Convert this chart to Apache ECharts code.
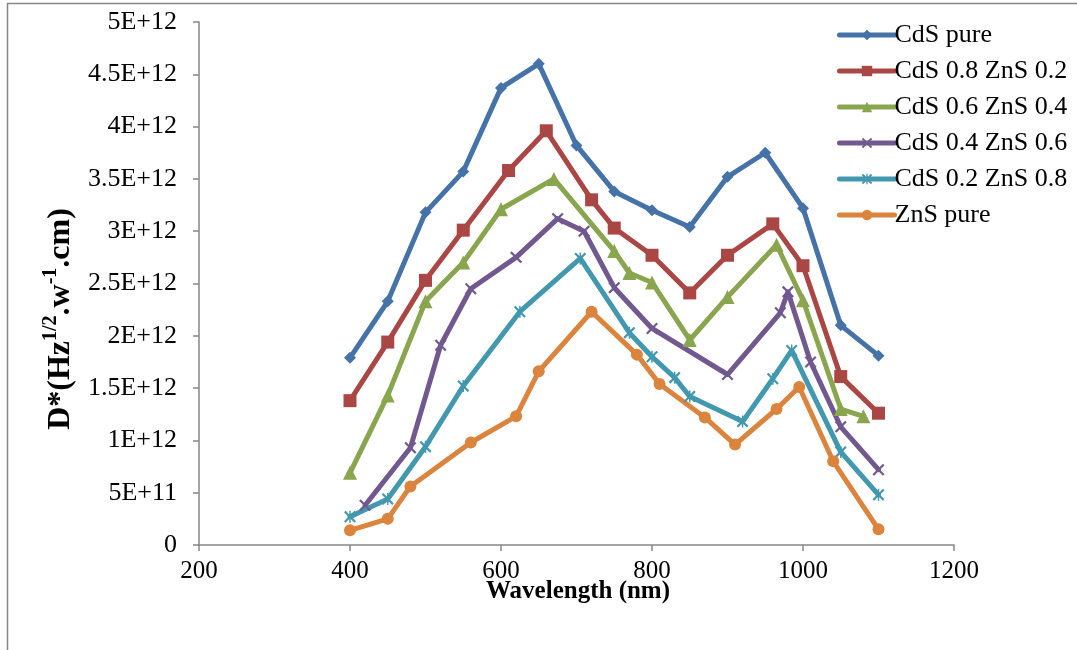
<!DOCTYPE html>
<html>
<head>
<meta charset="utf-8">
<script src="https://cdn.jsdelivr.net/npm/echarts@6/dist/echarts.min.js"></script>
<style>
html,body{margin:0;padding:0;background:#fff;}
#chart{width:1077px;height:650px;}
</style>
</head>
<body>
<div id="chart"></div>
<script>
// ---- data (wavelength nm, D* in units of 1E12) ----
const seriesNames = ['CdS pure', 'CdS 0.8 ZnS 0.2', 'CdS 0.6 ZnS 0.4', 'CdS 0.4 ZnS 0.6', 'CdS 0.2 ZnS 0.8', 'ZnS pure'];

const cdsPureX = [400, 450, 500, 550, 600, 650, 700, 750, 800, 850, 900, 950, 1000, 1050, 1100];
const cdsPureY = [1.79, 2.33, 3.18, 3.57, 4.37, 4.60, 3.82, 3.38, 3.20, 3.04, 3.52, 3.75, 3.22, 2.10, 1.81];

const cds08X = [400, 450, 500, 550, 610, 660, 720, 750, 800, 850, 900, 960, 1000, 1050, 1100];
const cds08Y = [1.38, 1.94, 2.53, 3.01, 3.58, 3.96, 3.30, 3.03, 2.77, 2.41, 2.77, 3.07, 2.67, 1.61, 1.26];

const cds06X = [400, 450, 500, 550, 600, 670, 750, 770, 800, 850, 900, 965, 1000, 1050, 1080];
const cds06Y = [0.69, 1.43, 2.33, 2.70, 3.21, 3.50, 2.81, 2.60, 2.51, 1.96, 2.37, 2.87, 2.34, 1.30, 1.23];

const cds04X = [420, 480, 520, 560, 620, 675, 710, 750, 800, 900, 970, 980, 1010, 1050, 1100];
const cds04Y = [0.38, 0.93, 1.91, 2.45, 2.75, 3.12, 3.00, 2.46, 2.07, 1.63, 2.22, 2.42, 1.75, 1.13, 0.72];

const cds02X = [400, 450, 500, 550, 625, 705, 770, 800, 830, 850, 920, 960, 985, 1050, 1100];
const cds02Y = [0.27, 0.44, 0.94, 1.52, 2.23, 2.74, 2.03, 1.80, 1.60, 1.42, 1.18, 1.59, 1.86, 0.89, 0.48];

const znsPureX = [400, 450, 480, 560, 620, 650, 720, 780, 810, 870, 910, 965, 995, 1040, 1100];
const znsPureY = [0.14, 0.25, 0.56, 0.98, 1.23, 1.66, 2.23, 1.82, 1.54, 1.22, 0.96, 1.30, 1.51, 0.80, 0.15];

const yScale = 1e12;
const xTicks = [200, 400, 600, 800, 1000, 1200];
const yTickLabels = ['0', '5E+11', '1E+12', '1.5E+12', '2E+12', '2.5E+12', '3E+12', '3.5E+12', '4E+12', '4.5E+12', '5E+12'];

// ---- styles ----
const colors = ['#4572A7', '#AA4643', '#89A54E', '#71588F', '#4198AF', '#DB843D'];
const xPath = 'path://M0,1.3L1.3,0L5,3.7L8.7,0L10,1.3L6.3,5L10,8.7L8.7,10L5,6.3L1.3,10L0,8.7L3.7,5Z';
const starPath = 'path://M0,1.3L1.3,0L5,3.7L8.7,0L10,1.3L6.3,5L10,8.7L8.7,10L5,6.3L1.3,10L0,8.7L3.7,5Z M4.4,0L5.6,0L5.6,10L4.4,10Z';
const symbols = ['diamond', 'rect', 'triangle', xPath, starPath, 'circle'];
const symbolSizes = [12, 13, 14, 12, 12, 12];
const xs = [cdsPureX, cds08X, cds06X, cds04X, cds02X, znsPureX];
const ys = [cdsPureY, cds08Y, cds06Y, cds04Y, cds02Y, znsPureY];

const font = '"Liberation Serif", "Times New Roman", serif';
const axisColor = '#868686';
const lineW = 5;

const series = seriesNames.map((name, i) => ({
  name: name,
  type: 'line',
  data: xs[i].map((x, k) => [x, ys[i][k] * yScale]),
  symbol: symbols[i],
  symbolSize: symbolSizes[i],
  showSymbol: true,
  lineStyle: { color: colors[i], width: lineW, join: 'round', cap: 'round' },
  itemStyle: { color: colors[i] },
  emphasis: { disabled: true },
  animation: false
}));

const chart = echarts.init(document.getElementById('chart'), null, { renderer: 'canvas' });
chart.setOption({
  backgroundColor: '#ffffff',
  animation: false,
  color: colors,
  grid: { left: 199, right: 123, top: 22, bottom: 105, containLabel: false },
  xAxis: {
    type: 'value',
    min: xTicks[0],
    max: xTicks[xTicks.length - 1],
    interval: 200,
    axisLine: { show: true, lineStyle: { color: axisColor, width: 1.5 } },
    axisTick: { show: true, length: 6, lineStyle: { color: axisColor, width: 1.5 } },
    splitLine: { show: false },
    axisLabel: { fontFamily: font, fontSize: 25, color: '#000', margin: 14,
      formatter: function (v) { return String(v); } }
  },
  yAxis: {
    type: 'value',
    min: 0,
    max: 5e12,
    interval: 5e11,
    axisLine: { show: true, lineStyle: { color: axisColor, width: 1.5 } },
    axisTick: { show: true, length: 6, lineStyle: { color: axisColor, width: 1.5 } },
    splitLine: { show: false },
    axisLabel: {
      fontFamily: font, fontSize: 26, color: '#000', margin: 22,
      formatter: function (v) { return yTickLabels[Math.round(v / 5e11)]; }
    }
  },
  legend: {
    orient: 'vertical',
    left: 832,
    top: 17,
    itemWidth: 55,
    itemHeight: 13,
    itemGap: 10,
    data: seriesNames,
    lineStyle: { width: lineW },
    textStyle: { fontFamily: font, fontSize: 26, color: '#000', padding: [0, 0, 0, -5] }
  },
  graphic: [
    {
      type: 'rect',
      shape: { x: 7.5, y: 3.5, width: 1100, height: 700 },
      style: { fill: 'none', stroke: axisColor, lineWidth: 1.5 },
      silent: true,
      z: -10
    },
    {
      type: 'text',
      x: 578,
      y: 592,
      style: {
        text: 'Wavelength (nm)',
        font: 'bold 25px ' + font,
        fill: '#000',
        textAlign: 'center',
        textVerticalAlign: 'middle'
      }
    },
    {
      type: 'text',
      x: 59,
      y: 319,
      rotation: Math.PI / 2,
      style: {
        text: '{a|D*(Hz}{s|1/2}{a|.w}{s|-1}{a|.cm)}',
        textAlign: 'center',
        textVerticalAlign: 'middle',
        fill: '#000',
        rich: {
          a: { fontFamily: font, fontWeight: 'bold', fontSize: 32, lineHeight: 36, verticalAlign: 'bottom', fill: '#000' },
          s: { fontFamily: font, fontWeight: 'bold', fontSize: 20, lineHeight: 36, verticalAlign: 'top', fill: '#000' }
        }
      }
    }
  ],
  series: series
});
</script>
</body>
</html>
